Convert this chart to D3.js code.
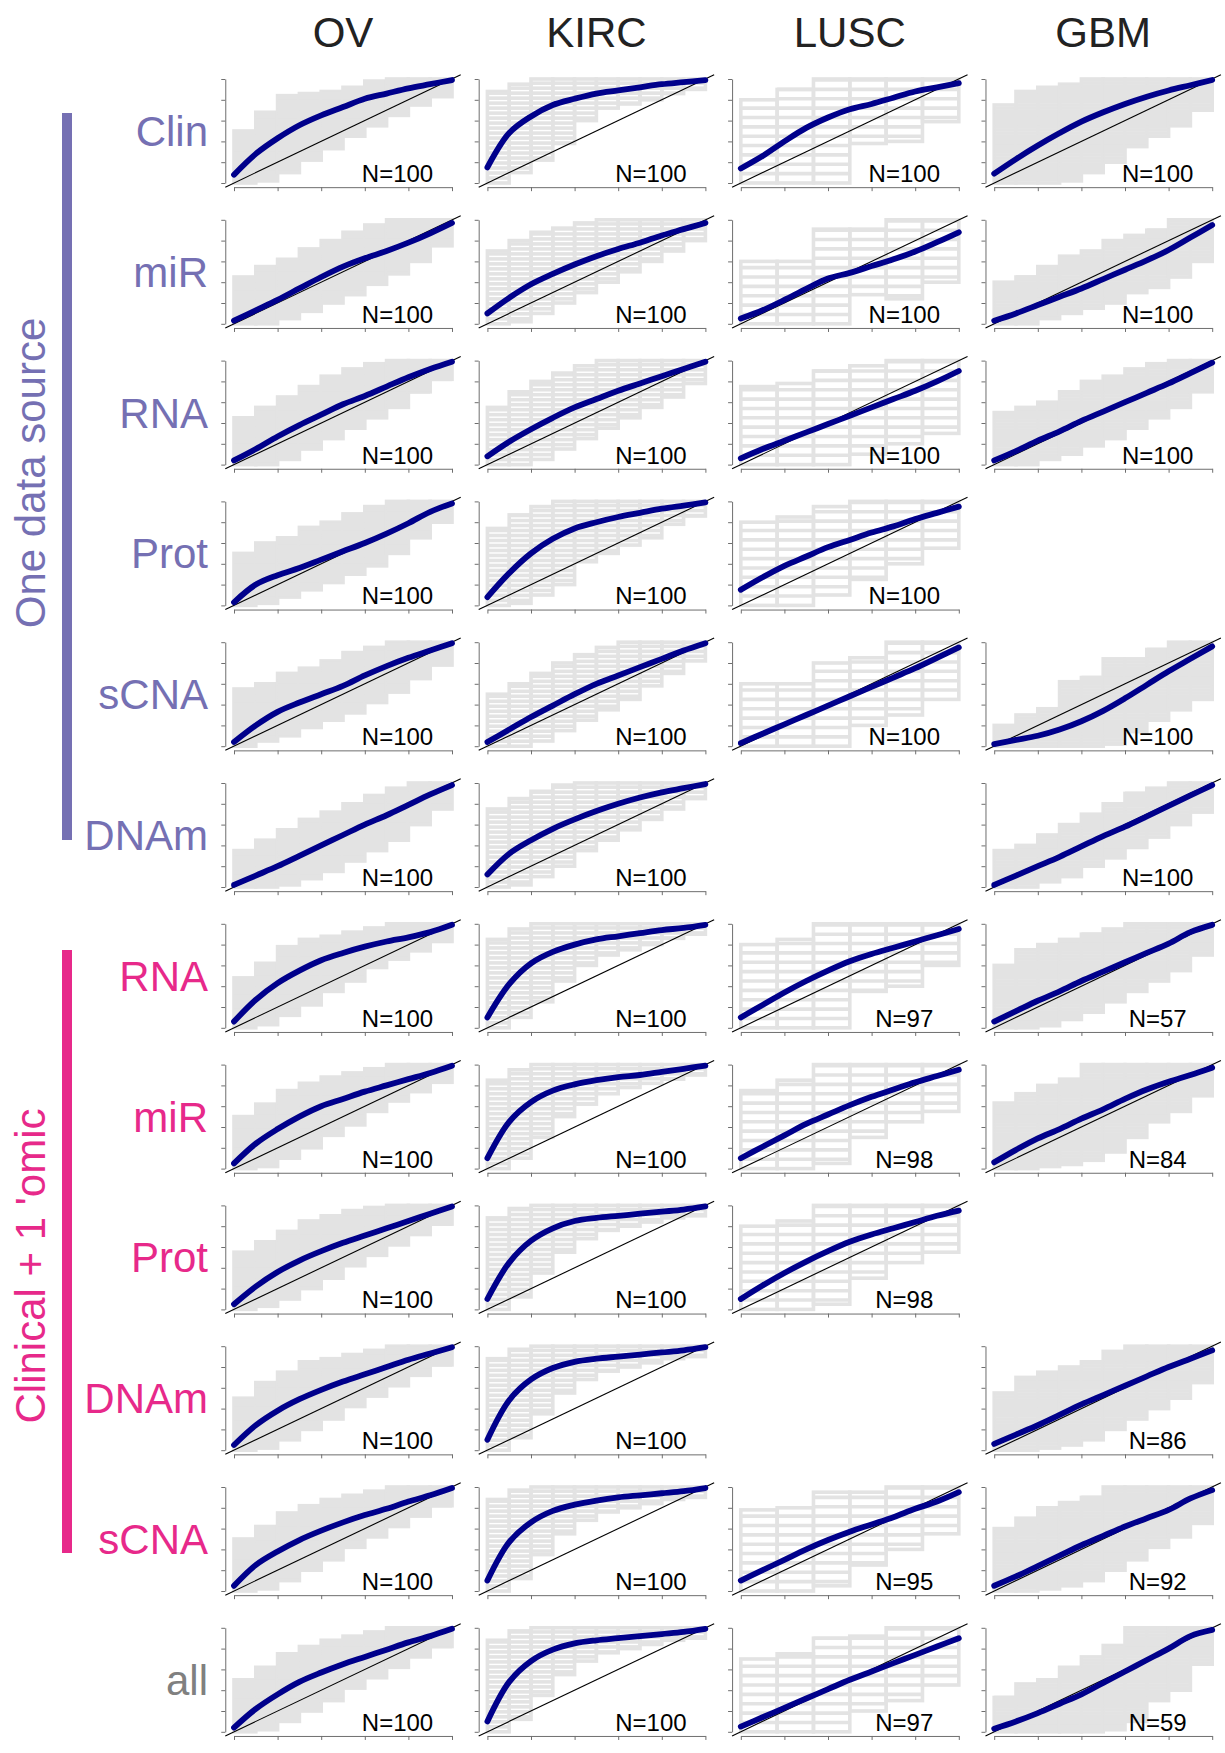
<!DOCTYPE html>
<html>
<head>
<meta charset="utf-8">
<script src="https://cdn.jsdelivr.net/npm/d3@7"></script>
<style>
  body { margin: 0; background: #fff; }
  text { font-family: "Liberation Sans", Arial, sans-serif; }
</style>
</head>
<body>
<svg id="chart" width="1225" height="1753"></svg>
<script>
/*
** Data
*/
var cancers = ["OV", "KIRC", "LUSC", "GBM"];
var groupNames = ["One data source", "Clinical + 1 'omic", ""];
var groupColors = ["#7570b3", "#e7298a", "#808080"];
var tickValues = [0, 0.2, 0.4, 0.6, 0.8, 1];
var curveX = [0, 0.1, 0.2, 0.3, 0.4, 0.5, 0.6, 0.7, 0.8, 0.9, 1];
var binCount = [10, 10, 6, 10];          // calibration bins per cancer
var levelStep = [0.02, 0.048, 0.09, 0.03]; // spacing of observed fractions

// blue (mean) calibration curves, y at curveX; grey envelopes per bin
var clinCurve = [
    [0.08, 0.28, 0.43, 0.555, 0.65, 0.73, 0.81, 0.86, 0.91, 0.95, 0.99]
  , [0.15, 0.48, 0.64, 0.75, 0.81, 0.86, 0.89, 0.92, 0.95, 0.97, 0.99]
  , [0.14, 0.26, 0.40, 0.53, 0.63, 0.71, 0.76, 0.82, 0.88, 0.92, 0.96]
  , [0.09, 0.23, 0.36, 0.48, 0.59, 0.68, 0.76, 0.83, 0.89, 0.94, 0.99]
];
var clinHi = [
    [0.5, 0.68, 0.84, 0.86, 0.88, 0.92, 0.98, 1, 1, 1]
  , [0.88, 0.95, 1, 1, 1, 1, 1, 1, 1, 1]
  , [0.8, 0.9, 1, 1, 1, 1]
  , [0.75, 0.88, 0.92, 0.95, 1, 1, 1, 1, 1, 1]
];
var clinLo = [
    [0, 0.02, 0.1, 0.22, 0.33, 0.45, 0.55, 0.65, 0.75, 0.83]
  , [0, 0.1, 0.22, 0.38, 0.6, 0.72, 0.76, 0.8, 0.86, 0.9]
  , [0, 0, 0, 0.38, 0.4, 0.59]
  , [0, 0, 0, 0.02, 0.1, 0.2, 0.35, 0.45, 0.55, 0.7]
];

var miRCurve = [
    [0.03, 0.13, 0.23, 0.34, 0.45, 0.55, 0.63, 0.70, 0.78, 0.87, 0.97]
  , [0.1, 0.25, 0.38, 0.48, 0.57, 0.65, 0.72, 0.78, 0.85, 0.91, 0.97]
  , [0.05, 0.13, 0.23, 0.336, 0.435, 0.49, 0.555, 0.62, 0.695, 0.785, 0.88]
  , [0.03, 0.1, 0.18, 0.26, 0.34, 0.43, 0.52, 0.61, 0.71, 0.83, 0.95]
];
var miRHi = [
    [0.45, 0.55, 0.62, 0.72, 0.8, 0.88, 0.95, 1, 1, 1]
  , [0.7, 0.8, 0.88, 0.92, 0.97, 1, 1, 1, 1, 1]
  , [0.6, 0.6, 0.91, 0.91, 1, 1]
  , [0.4, 0.45, 0.55, 0.65, 0.7, 0.8, 0.85, 0.9, 1, 1]
];
var miRLo = [
    [0, 0, 0.05, 0.12, 0.2, 0.28, 0.38, 0.48, 0.6, 0.75]
  , [0, 0.02, 0.1, 0.2, 0.3, 0.4, 0.5, 0.6, 0.7, 0.8]
  , [0, 0, 0, 0.28, 0.24, 0.4]
  , [0, 0, 0.05, 0.1, 0.15, 0.2, 0.3, 0.35, 0.45, 0.6]
];

var rnaCurve = [
    [0.04, 0.15, 0.27, 0.38, 0.48, 0.58, 0.66, 0.75, 0.84, 0.92, 0.99]
  , [0.08, 0.22, 0.34, 0.45, 0.55, 0.63, 0.71, 0.78, 0.85, 0.92, 0.99]
  , [0.06, 0.15, 0.23, 0.31, 0.39, 0.47, 0.55, 0.63, 0.71, 0.80, 0.90]
  , [0.04, 0.13, 0.23, 0.32, 0.42, 0.51, 0.6, 0.69, 0.78, 0.88, 0.98]
];
var rnaHi = [
    [0.45, 0.55, 0.65, 0.75, 0.85, 0.92, 0.97, 1, 1, 1]
  , [0.55, 0.7, 0.8, 0.88, 0.95, 1, 1, 1, 1, 1]
  , [0.75, 0.78, 0.9, 0.95, 1, 1]
  , [0.5, 0.55, 0.6, 0.7, 0.8, 0.85, 0.92, 0.97, 1, 1]
];
var rnaLo = [
    [0, 0, 0.05, 0.15, 0.25, 0.35, 0.45, 0.55, 0.7, 0.82]
  , [0, 0, 0.05, 0.15, 0.25, 0.35, 0.45, 0.55, 0.65, 0.78]
  , [0, 0, 0, 0.1, 0.2, 0.3]
  , [0, 0, 0.05, 0.1, 0.18, 0.25, 0.35, 0.45, 0.55, 0.7]
];

var protCurve = [
    [0.03, 0.2, 0.29, 0.36, 0.44, 0.52, 0.6, 0.69, 0.79, 0.9, 0.98]
  , [0.08, 0.31, 0.5, 0.64, 0.74, 0.8, 0.85, 0.89, 0.93, 0.96, 0.99]
  , [0.15, 0.27, 0.38, 0.47, 0.56, 0.63, 0.70, 0.76, 0.83, 0.89, 0.95]
  , null
];
var protHi = [
    [0.5, 0.6, 0.65, 0.75, 0.8, 0.88, 0.95, 1, 1, 1]
  , [0.74, 0.87, 0.95, 1, 1, 1, 1, 1, 1, 1]
  , [0.8, 0.85, 0.95, 1, 1, 1]
  , null
];
var protLo = [
    [0, 0.02, 0.08, 0.15, 0.22, 0.3, 0.38, 0.5, 0.65, 0.8]
  , [0, 0.02, 0.1, 0.2, 0.42, 0.5, 0.58, 0.65, 0.78, 0.86]
  , [0, 0, 0.1, 0.25, 0.4, 0.55]
  , null
];

var sCNACurve = [
    [0.04, 0.2, 0.33, 0.42, 0.5, 0.58, 0.68, 0.77, 0.85, 0.92, 0.99]
  , [0.04, 0.16, 0.28, 0.39, 0.5, 0.6, 0.68, 0.76, 0.84, 0.92, 0.99]
  , [0.03, 0.12, 0.21, 0.3, 0.39, 0.48, 0.57, 0.66, 0.75, 0.85, 0.95]
  , [0.02, 0.06, 0.1, 0.16, 0.24, 0.34, 0.46, 0.59, 0.72, 0.84, 0.96]
];
var sCNAHi = [
    [0.55, 0.6, 0.7, 0.75, 0.82, 0.9, 0.95, 1, 1, 1]
  , [0.5, 0.6, 0.7, 0.8, 0.88, 0.95, 1, 1, 1, 1]
  , [0.6, 0.6, 0.8, 0.85, 1, 1]
  , [0.2, 0.3, 0.36, 0.62, 0.66, 0.84, 0.84, 0.93, 1, 1]
];
var sCNALo = [
    [0, 0.05, 0.1, 0.18, 0.25, 0.32, 0.42, 0.52, 0.65, 0.78]
  , [0, 0, 0.05, 0.15, 0.25, 0.35, 0.45, 0.58, 0.7, 0.82]
  , [0, 0, 0, 0.2, 0.3, 0.45]
  , [0, 0, 0, 0, 0, 0.02, 0.14, 0.25, 0.35, 0.45]
];

var dnamCurve = [
    [0.02, 0.11, 0.2, 0.3, 0.4, 0.5, 0.6, 0.69, 0.79, 0.89, 0.98]
  , [0.12, 0.32, 0.45, 0.56, 0.65, 0.73, 0.8, 0.86, 0.91, 0.95, 0.99]
  , null
  , [0.02, 0.11, 0.2, 0.29, 0.39, 0.49, 0.58, 0.68, 0.78, 0.88, 0.98]
];
var dnamHi = [
    [0.35, 0.45, 0.55, 0.65, 0.72, 0.8, 0.88, 0.95, 1, 1]
  , [0.75, 0.85, 0.92, 0.98, 1, 1, 1, 1, 1, 1]
  , null
  , [0.35, 0.4, 0.5, 0.6, 0.7, 0.8, 0.9, 0.95, 1, 1]
];
var dnamLo = [
    [0, 0, 0.02, 0.08, 0.15, 0.25, 0.35, 0.45, 0.6, 0.75]
  , [0, 0.02, 0.1, 0.2, 0.35, 0.45, 0.55, 0.65, 0.75, 0.85]
  , null
  , [0, 0, 0.05, 0.1, 0.2, 0.28, 0.38, 0.48, 0.6, 0.72]
];

var clinRnaCurve = [
    [0.06, 0.27, 0.43, 0.55, 0.65, 0.72, 0.78, 0.83, 0.87, 0.92, 0.99]
  , [0.1, 0.42, 0.62, 0.73, 0.8, 0.85, 0.88, 0.91, 0.94, 0.96, 0.99]
  , [0.1, 0.22, 0.34, 0.45, 0.55, 0.64, 0.71, 0.77, 0.83, 0.89, 0.95]
  , [0.06, 0.16, 0.26, 0.35, 0.45, 0.54, 0.63, 0.72, 0.81, 0.92, 0.99]
];
var clinRnaHi = [
    [0.48, 0.62, 0.78, 0.85, 0.88, 0.92, 0.96, 1, 1, 1]
  , [0.85, 0.95, 1, 1, 1, 1, 1, 1, 1, 1]
  , [0.8, 0.85, 1, 1, 1, 1]
  , [0.6, 0.75, 0.8, 0.85, 0.9, 0.95, 1, 1, 1, 1]
];
var clinRnaLo = [
    [0, 0.03, 0.12, 0.22, 0.35, 0.45, 0.58, 0.66, 0.74, 0.83]
  , [0, 0.1, 0.25, 0.45, 0.6, 0.7, 0.75, 0.8, 0.86, 0.9]
  , [0, 0, 0, 0.35, 0.4, 0.6]
  , [0, 0, 0.02, 0.08, 0.15, 0.25, 0.35, 0.45, 0.55, 0.7]
];

var clinMiRCurve = [
    [0.05, 0.24, 0.38, 0.5, 0.6, 0.67, 0.74, 0.8, 0.86, 0.92, 0.99]
  , [0.1, 0.45, 0.64, 0.75, 0.81, 0.85, 0.88, 0.9, 0.93, 0.96, 0.99]
  , [0.1, 0.21, 0.32, 0.43, 0.52, 0.61, 0.69, 0.76, 0.83, 0.89, 0.95]
  , [0.06, 0.18, 0.29, 0.38, 0.48, 0.57, 0.67, 0.76, 0.835, 0.9, 0.97]
];
var clinMiRHi = [
    [0.5, 0.62, 0.75, 0.82, 0.88, 0.92, 0.96, 1, 1, 1]
  , [0.85, 0.95, 1, 1, 1, 1, 1, 1, 1, 1]
  , [0.75, 0.85, 1, 1, 1, 1]
  , [0.63, 0.72, 0.8, 0.86, 1, 1, 1, 1, 1, 1]
];
var clinMiRLo = [
    [0, 0.02, 0.1, 0.2, 0.32, 0.42, 0.55, 0.65, 0.74, 0.83]
  , [0, 0.1, 0.3, 0.5, 0.62, 0.72, 0.78, 0.82, 0.86, 0.9]
  , [0, 0, 0.05, 0.3, 0.45, 0.55]
  , [0, 0, 0.02, 0.04, 0.08, 0.16, 0.3, 0.45, 0.55, 0.7]
];

var clinProtCurve = [
    [0.05, 0.22, 0.36, 0.47, 0.56, 0.64, 0.71, 0.78, 0.85, 0.92, 0.99]
  , [0.1, 0.45, 0.66, 0.78, 0.85, 0.88, 0.9, 0.92, 0.94, 0.96, 0.99]
  , [0.1, 0.23, 0.35, 0.46, 0.56, 0.65, 0.72, 0.78, 0.84, 0.9, 0.95]
  , null
];
var clinProtHi = [
    [0.55, 0.65, 0.75, 0.85, 0.9, 0.95, 0.98, 1, 1, 1]
  , [0.88, 0.97, 1, 1, 1, 1, 1, 1, 1, 1]
  , [0.8, 0.85, 1, 1, 1, 1]
  , null
];
var clinProtLo = [
    [0, 0.03, 0.1, 0.2, 0.3, 0.42, 0.52, 0.62, 0.72, 0.82]
  , [0, 0.12, 0.35, 0.55, 0.68, 0.76, 0.8, 0.84, 0.88, 0.9]
  , [0, 0, 0.05, 0.3, 0.45, 0.55]
  , null
];

var clinDnamCurve = [
    [0.05, 0.24, 0.38, 0.49, 0.58, 0.66, 0.73, 0.8, 0.87, 0.93, 0.99]
  , [0.1, 0.48, 0.68, 0.79, 0.85, 0.88, 0.9, 0.92, 0.94, 0.96, 0.99]
  , null
  , [0.06, 0.15, 0.24, 0.34, 0.44, 0.53, 0.62, 0.71, 0.8, 0.88, 0.96]
];
var clinDnamHi = [
    [0.5, 0.65, 0.75, 0.85, 0.88, 0.92, 0.96, 1, 1, 1]
  , [0.88, 0.97, 1, 1, 1, 1, 1, 1, 1, 1]
  , null
  , [0.55, 0.7, 0.75, 0.8, 0.85, 0.95, 1, 1, 1, 1]
];
var clinDnamLo = [
    [0, 0.02, 0.1, 0.2, 0.3, 0.42, 0.52, 0.62, 0.72, 0.82]
  , [0, 0.12, 0.35, 0.55, 0.68, 0.76, 0.8, 0.84, 0.88, 0.9]
  , null
  , [0, 0, 0.02, 0.05, 0.1, 0.2, 0.3, 0.4, 0.5, 0.65]
];

var clinSCNACurve = [
    [0.05, 0.25, 0.38, 0.49, 0.58, 0.66, 0.73, 0.79, 0.86, 0.92, 0.99]
  , [0.1, 0.47, 0.66, 0.77, 0.83, 0.87, 0.9, 0.92, 0.94, 0.96, 0.99]
  , [0.1, 0.2, 0.3, 0.4, 0.49, 0.57, 0.64, 0.71, 0.79, 0.86, 0.95]
  , [0.05, 0.14, 0.24, 0.34, 0.44, 0.53, 0.62, 0.7, 0.78, 0.89, 0.97]
];
var clinSCNAHi = [
    [0.5, 0.62, 0.75, 0.82, 0.88, 0.92, 0.96, 1, 1, 1]
  , [0.88, 0.97, 1, 1, 1, 1, 1, 1, 1, 1]
  , [0.78, 0.8, 0.95, 0.95, 1, 1]
  , [0.6, 0.7, 0.8, 0.85, 0.9, 1, 1, 1, 1, 1]
];
var clinSCNALo = [
    [0, 0.02, 0.1, 0.2, 0.3, 0.42, 0.52, 0.62, 0.72, 0.82]
  , [0, 0.12, 0.35, 0.55, 0.68, 0.76, 0.8, 0.84, 0.88, 0.9]
  , [0, 0, 0.05, 0.25, 0.4, 0.55]
  , [0, 0, 0.02, 0.05, 0.1, 0.2, 0.3, 0.42, 0.52, 0.65]
];

var allCurve = [
    [0.04, 0.22, 0.36, 0.48, 0.57, 0.65, 0.72, 0.79, 0.86, 0.92, 0.99]
  , [0.1, 0.48, 0.68, 0.79, 0.85, 0.88, 0.9, 0.92, 0.94, 0.96, 0.99]
  , [0.05, 0.14, 0.23, 0.32, 0.41, 0.5, 0.58, 0.66, 0.74, 0.82, 0.9]
  , [0.03, 0.1, 0.18, 0.27, 0.36, 0.47, 0.58, 0.69, 0.8, 0.92, 0.98]
];
var allHi = [
    [0.5, 0.62, 0.75, 0.82, 0.88, 0.92, 0.96, 1, 1, 1]
  , [0.88, 0.97, 1, 1, 1, 1, 1, 1, 1, 1]
  , [0.7, 0.75, 0.9, 0.92, 1, 1]
  , [0.33, 0.46, 0.5, 0.62, 0.72, 0.83, 1, 1, 1, 1]
];
var allLo = [
    [0, 0.02, 0.1, 0.2, 0.3, 0.42, 0.52, 0.62, 0.72, 0.82]
  , [0, 0.12, 0.35, 0.55, 0.68, 0.76, 0.8, 0.84, 0.88, 0.9]
  , [0, 0, 0, 0.2, 0.3, 0.45]
  , [0, 0, 0, 0, 0, 0.02, 0.1, 0.3, 0.4, 0.65]
];

// sample sizes shown in each panel
var nOne = [100, 100, 100, 100];
var nProt = [100, 100, 100, null];
var nDNAm = [100, 100, null, 100];
var nClinRNA = [100, 100, 97, 57];
var nClinMiR = [100, 100, 98, 84];
var nClinProt = [100, 100, 98, null];
var nClinDNAm = [100, 100, null, 86];
var nClinSCNA = [100, 100, 95, 92];
var nAll = [100, 100, 97, 59];

var rows = [
    { label: "Clin", group: 0, curve: clinCurve, hi: clinHi, lo: clinLo, n: nOne }
  , { label: "miR", group: 0, curve: miRCurve, hi: miRHi, lo: miRLo, n: nOne }
  , { label: "RNA", group: 0, curve: rnaCurve, hi: rnaHi, lo: rnaLo, n: nOne }
  , { label: "Prot", group: 0, curve: protCurve, hi: protHi, lo: protLo, n: nProt }
  , { label: "sCNA", group: 0, curve: sCNACurve, hi: sCNAHi, lo: sCNALo, n: nOne }
  , { label: "DNAm", group: 0, curve: dnamCurve, hi: dnamHi, lo: dnamLo, n: nDNAm }
  , { label: "RNA", group: 1, curve: clinRnaCurve, hi: clinRnaHi, lo: clinRnaLo, n: nClinRNA }
  , { label: "miR", group: 1, curve: clinMiRCurve, hi: clinMiRHi, lo: clinMiRLo, n: nClinMiR }
  , { label: "Prot", group: 1, curve: clinProtCurve, hi: clinProtHi, lo: clinProtLo, n: nClinProt }
  , { label: "DNAm", group: 1, curve: clinDnamCurve, hi: clinDnamHi, lo: clinDnamLo, n: nClinDNAm }
  , { label: "sCNA", group: 1, curve: clinSCNACurve, hi: clinSCNAHi, lo: clinSCNALo, n: nClinSCNA }
  , { label: "all", group: 2, curve: allCurve, hi: allHi, lo: allLo, n: nAll }
];

/*
** Layout
*/
var colX = 234, colStep = 253.4, plotW = 218
  , rowY = 183, rowStep = 140.8, plotH = 104
  , pad = 0.04
  , labelRight = 208
  , axisColor = "#6e6e6e"
  , greyColor = "#e3e3e3"
  , blueColor = "#00008b"
  , bars = [ { y0: 113, y1: 840, mid: 473 }, { y0: 950, y1: 1553, mid: 1266 } ]
;

var svg = d3.select("#chart");

// column headers
svg.selectAll("text.header")
    .data(cancers)
  .enter().append("text")
    .attr("class", "header")
    .attr("x", function(d, i) { return colX + i * colStep + plotW / 2; })
    .attr("y", 47)
    .attr("text-anchor", "middle")
    .attr("font-size", 42)
    .attr("fill", "#222")
    .text(function(d) { return d; })
;

// group bars and rotated group titles
bars.forEach(function(b, i) {
    svg.append("rect")
        .attr("x", 62).attr("y", b.y0)
        .attr("width", 10).attr("height", b.y1 - b.y0)
        .attr("fill", groupColors[i]);
    svg.append("text")
        .attr("transform", "translate(45," + b.mid + ") rotate(-90)")
        .attr("text-anchor", "middle")
        .attr("font-size", 42)
        .attr("fill", groupColors[i])
        .text(groupNames[i]);
});

// row labels
svg.selectAll("text.rowlabel")
    .data(rows)
  .enter().append("text")
    .attr("class", "rowlabel")
    .attr("x", labelRight)
    .attr("y", function(d, r) { return rowY + r * rowStep - plotH / 2 + 15; })
    .attr("text-anchor", "end")
    .attr("font-size", 42)
    .attr("fill", function(d) { return groupColors[d.group]; })
    .text(function(d) { return d.label; })
;

var x = d3.scaleLinear().domain([0, 1]).range([0, plotW])
  , y = d3.scaleLinear().domain([0, 1]).range([plotH, 0])
  , line = d3.line()
        .x(function(d, i) { return x(curveX[i]); })
        .y(function(d) { return y(d); })
        .curve(d3.curveCatmullRom.alpha(0.5))
;

function drawPanel(g, row, c) {
    var nb = binCount[c], step = levelStep[c]
      , hi = row.hi[c], lo = row.lo[c]
      , levels = d3.range(0, 1 + 1e-9, step)
    ;
    var grey = g.append("g")
        .attr("fill", "none")
        .attr("stroke", greyColor)
        .attr("stroke-width", 3.6)
    ;
    for (var i = 0; i < nb; i++) {
        var x0 = x(i / nb), x1 = x((i + 1) / nb);
        grey.append("rect")
            .attr("x", x0).attr("y", y(hi[i]))
            .attr("width", x1 - x0).attr("height", y(lo[i]) - y(hi[i]));
        levels.filter(function(v) { return v > lo[i] && v < hi[i]; })
            .forEach(function(v) {
                grey.append("line")
                    .attr("x1", x0).attr("x2", x1)
                    .attr("y1", y(v)).attr("y2", y(v));
            });
    }

    // axes
    var ya = g.append("g")
        .attr("transform", "translate(" + x(-pad) + ",0)")
        .call(d3.axisLeft(y).tickValues(tickValues).tickFormat("")
            .tickSizeInner(4).tickSizeOuter(0));
    var xa = g.append("g")
        .attr("transform", "translate(0," + y(-pad) + ")")
        .call(d3.axisBottom(x).tickValues(tickValues).tickFormat("")
            .tickSizeInner(4).tickSizeOuter(0));
    [ya, xa].forEach(function(a) {
        a.select(".domain").attr("stroke", axisColor);
        a.selectAll(".tick line").attr("stroke", axisColor);
    });

    // identity line
    g.append("line")
        .attr("x1", x(-pad)).attr("y1", y(-pad))
        .attr("x2", x(1 + pad)).attr("y2", y(1 + pad))
        .attr("stroke", "#000").attr("stroke-width", 1.1);

    // mean calibration curve
    g.append("path")
        .datum(row.curve[c])
        .attr("d", line)
        .attr("fill", "none")
        .attr("stroke", blueColor)
        .attr("stroke-width", 5.8)
        .attr("stroke-linecap", "round")
        .attr("stroke-linejoin", "round");

    g.append("text")
        .attr("x", x(0.75)).attr("y", y(0.01))
        .attr("text-anchor", "middle")
        .attr("font-size", 24)
        .attr("fill", "#000")
        .text("N=" + row.n[c]);
}

rows.forEach(function(row, r) {
    cancers.forEach(function(cancer, c) {
        if (!row.curve[c]) return;
        var g = svg.append("g")
            .attr("transform", "translate(" + (colX + c * colStep) + ","
                + (rowY + r * rowStep - plotH) + ")");
        drawPanel(g, row, c);
    });
});
</script>
</body>
</html>
